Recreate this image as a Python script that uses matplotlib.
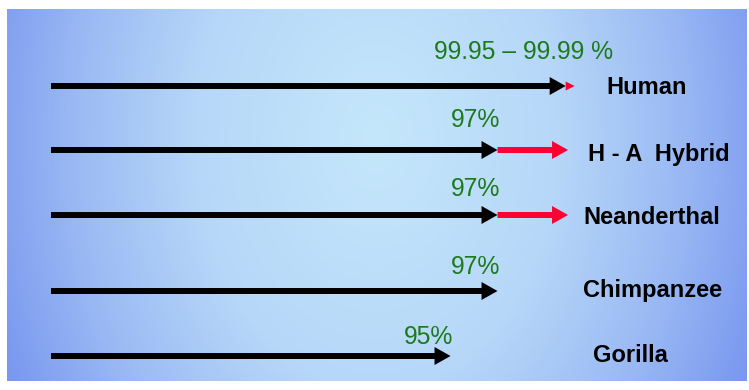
import numpy as np
import matplotlib
matplotlib.use("Agg")
from matplotlib import pyplot as plt
from matplotlib.colors import LinearSegmentedColormap

# species, similarity to human DNA (%), shown text
species = ["Human", "H - A  Hybrid", "Neanderthal", "Chimpanzee", "Gorilla"]
similarity = [99.9, 97, 97, 97, 95]
extension = [100.28, 100.0, 100.0, None, None]   # red part of the arrow
percent_text = ["99.95 \u2013 99.99 %", "97%", "97%", "97%", "95%"]

# layout (pixels from top), label positions
row_y = [86, 150, 215, 291, 356]
pct_y = [52, 120, 189, 267, 337]
pct_x = [98.1, 97.1, 97.1, 97.1, 95.1]
pct_ha = ["center", "right", "right", "right", "right"]
name_x = [101.65, 100.85, 100.65, 100.65, 101.05]
name_dy = [2, 4, 3, -1, -1]
start = 78.0

plt.rcParams['font.family'] = ['Liberation Sans', 'DejaVu Sans']

fig = plt.figure(figsize=(7.49, 3.90), dpi=100)
fig.patch.set_facecolor("white")

# gradient background
bg = fig.add_axes([7 / 749, 9 / 390, 740 / 749, 372 / 390])
bg.set_axis_off()
xx, yy = np.meshgrid(np.linspace(0, 1, 400), np.linspace(0, 1, 200))
d = np.sqrt(((xx - 0.5) / 0.55) ** 2 + ((yy - 0.35) / 1.5) ** 2)
cmap = LinearSegmentedColormap.from_list(
    "bg", [(0, "#c5e7fb"), (0.45, "#b6d7f8"), (0.75, "#9ab9f4"), (1.0, "#7a98ef")])
bg.imshow(np.clip(d, 0, 1), cmap=cmap, aspect="auto", vmin=0, vmax=1, interpolation="bilinear")

ax = fig.add_axes([0, 0, 1, 1])
ax.set_xlim(75.83, 107.7)
ax.set_ylim(390, 0)
ax.set_axis_off()
ax.patch.set_alpha(0)

px = 23.5  # pixels per percent
for i in range(len(species)):
    y = row_y[i]
    tip = similarity[i]
    if extension[i] is not None:
        ext = extension[i]
        if ext - tip < 16 / px:
            ax.arrow(tip, y, ext - tip, 0, width=0.1, head_width=9, head_length=ext - tip,
                     length_includes_head=True, color="#ff0033", lw=0, zorder=2)
        else:
            ax.arrow(tip, y, ext - tip, 0, width=6, head_width=18, head_length=16 / px,
                     length_includes_head=True, color="#ff0033", lw=0, zorder=2)
    ax.arrow(start, y, tip - start, 0, width=6, head_width=18, head_length=16 / px,
             length_includes_head=True, color="black", lw=0, zorder=3)
    ax.text(pct_x[i], pct_y[i], percent_text[i], color="#1b7a1b", fontsize=17.8,
            ha=pct_ha[i], va="center")
    ax.text(name_x[i], y + name_dy[i], species[i], color="black", fontsize=17,
            fontweight="bold", ha="left", va="center")

fig.savefig("out.png", dpi=100)
